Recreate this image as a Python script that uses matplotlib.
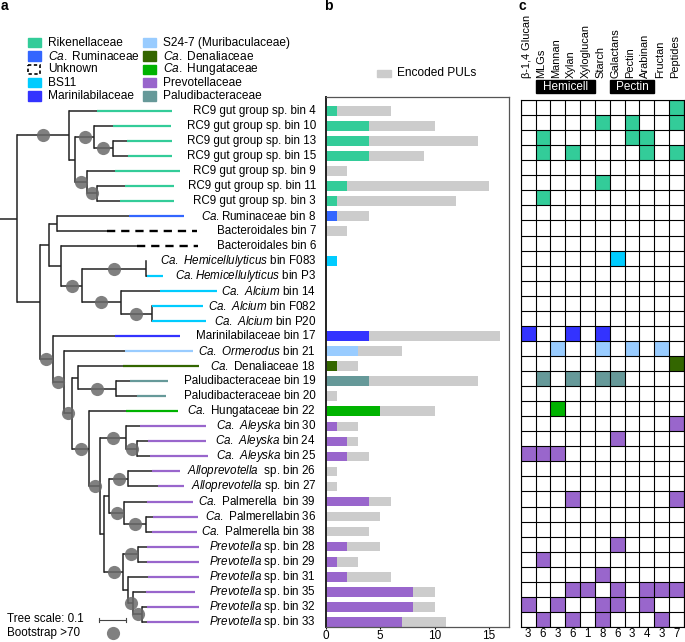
import matplotlib
matplotlib.use('Agg')
import matplotlib.pyplot as plt
import matplotlib.transforms as mtransforms
from matplotlib.patches import Rectangle
import numpy as np

plt.rcParams['font.family'] = ['Liberation Sans', 'DejaVu Sans']
plt.rcParams['mathtext.fontset'] = 'custom'
plt.rcParams['mathtext.rm'] = 'Liberation Sans'
plt.rcParams['mathtext.it'] = 'Liberation Sans:italic'
plt.rcParams['mathtext.bf'] = 'Liberation Sans:bold'

# ---------------- data ----------------
families = ['Rikenellaceae', 'Ruminaceae', 'Unknown', 'BS11', 'Marinilabilaceae',
            'S24-7', 'Denaliaceae', 'Hungataceae', 'Prevotellaceae', 'Paludibacteraceae']
family_labels = ['Rikenellaceae', r'$\mathit{Ca.}$ Ruminaceae', 'Unknown', 'BS11',
                 'Marinilabilaceae', 'S24-7 (Muribaculaceae)', r'$\mathit{Ca.}$ Denaliaceae',
                 r'$\mathit{Ca.}$ Hungataceae', 'Prevotellaceae', 'Paludibacteraceae']
family_colors = ['#33cc99', '#3366ff', 'black', '#00ccff', '#3333ff',
                 '#99ccff', '#336600', '#00b300', '#9966cc', '#669999']

taxa = [
    'RC9 gut group sp. bin 4', 'RC9 gut group sp. bin 10', 'RC9 gut group sp. bin 13',
    'RC9 gut group sp. bin 15', 'RC9 gut group sp. bin 9', 'RC9 gut group sp. bin 11',
    'RC9 gut group sp. bin 3',
    r'$\mathit{Ca.}$Ruminaceae bin 8', 'Bacteroidales bin 7', 'Bacteroidales bin 6',
    r'$\mathit{Ca.\ Hemicellulyticus}$ bin F083', r'$\mathit{Ca.Hemicellulyticus}$ bin P3',
    r'$\mathit{Ca.\ Alcium}$ bin 14', r'$\mathit{Ca.\ Alcium}$ bin F082',
    r'$\mathit{Ca.\ Alcium}$ bin P20',
    'Marinilabilaceae bin 17', r'$\mathit{Ca.\ Ormerodus}$ bin 21',
    r'$\mathit{Ca.}$ Denaliaceae 18', 'Paludibacteraceae bin 19', 'Paludibacteraceae bin 20',
    r'$\mathit{Ca.}$ Hungataceae bin 22',
    r'$\mathit{Ca.\ Aleyska}$ bin 30', r'$\mathit{Ca.\ Aleyska}$ bin 24',
    r'$\mathit{Ca.\ Aleyska}$ bin 25',
    r'$\mathit{Alloprevotella}$  sp. bin 26', r'$\mathit{Alloprevotella}$ sp. bin 27',
    r'$\mathit{Ca.}$ Palmerella  bin 39', r'$\mathit{Ca.}$ Palmerellabin 36',
    r'$\mathit{Ca.}$ Palmerella bin 38',
    r'$\mathit{Prevotella}$ sp. bin 28', r'$\mathit{Prevotella}$ sp. bin 29',
    r'$\mathit{Prevotella}$ sp. bin 31', r'$\mathit{Prevotella}$ sp. bin 35',
    r'$\mathit{Prevotella}$ sp. bin 32', r'$\mathit{Prevotella}$ sp. bin 33',
]
taxon_family = [0, 0, 0, 0, 0, 0, 0, 1, 2, 2, 3, 3, 3, 3, 3, 4, 5, 6, 9, 9, 7,
                8, 8, 8, 8, 8, 8, 8, 8, 8, 8, 8, 8, 8, 8]

# PUL counts (panel b)
pul_total = [6, 10, 14, 9, 2, 15, 12, 4, 2, 0, 1, 0, 0, 0, 0, 16, 7, 3, 14, 1, 10,
             3, 3, 4, 1, 1, 6, 5, 4, 5, 3, 6, 10, 10, 11]
pul_matched = [1, 4, 4, 4, 0, 2, 1, 1, 0, 0, 1, 0, 0, 0, 0, 4, 3, 1, 4, 0, 5,
               1, 2, 2, 0, 0, 4, 0, 0, 2, 1, 2, 8, 8, 7]

# substrate predictions (panel c)
substrates = ['β-1,4 Glucan', 'MLGs', 'Mannan', 'Xylan', 'Xyloglucan', 'Starch',
              'Galactans', 'Pectin', 'Arabinan', 'Fructan', 'Peptides']
pul_hits = [[10], [5, 7, 10], [1, 7, 8], [1, 3, 8, 10], [], [5], [1], [], [], [],
            [6], [], [], [], [], [0, 3, 5], [2, 5, 7, 9], [10], [1, 3, 5, 6], [],
            [2], [10], [6], [0, 1, 2], [], [], [3, 10], [], [], [6], [1], [5],
            [3, 4, 6, 8, 9, 10], [0, 2, 5, 6, 8], [1, 3, 5, 9]]
col_totals = ['3', '6', '3', '6', '1', '8', '6', '3', '4', '3', '7']
substrate_groups = [('Hemicell', 1, 4), ('Pectin', 6, 8)]

# tree: tip depth and start of the family-coloured tip segment (tree units)
tip_end = [0.645, 0.639, 0.645, 0.645, 0.674, 0.652, 0.652,
           0.689, 0.737, 0.743,
           0.546, 0.612, 0.812, 0.761, 0.770,
           0.674, 0.722, 0.745, 0.628, 0.621,
           0.668,
           0.772, 0.772, 0.780,
           0.674, 0.690,
           0.724, 0.743, 0.737,
           0.745, 0.745, 0.745, 0.730, 0.745, 0.745]
tip_color_start = [0.362, 0.422, 0.475, 0.481, 0.431, 0.468, 0.449,
                   0.484, 0.400, 0.512,
                   0.546, 0.549, 0.599, 0.568, 0.568,
                   0.431, 0.468, 0.462, 0.487, 0.512,
                   0.472,
                   0.524, 0.555, 0.562,
                   0.568, 0.593,
                   0.549, 0.574, 0.568,
                   0.549, 0.549, 0.555, 0.546, 0.549, 0.549]


def clade(depth, children, boot=False):
    return {'depth': depth, 'children': children, 'boot': boot}


tree = clade(0.064, [
    clade(0.258, [
        0,
        clade(0.281, [
            clade(0.352, [1, clade(0.422, [2, 3], True)], True),
            clade(0.327, [4, clade(0.364, [5, 6], True)], True),
        ]),
    ], True),
    clade(0.150, [
        clade(0.185, [
            clade(0.215, [7, 8]),
            clade(0.228, [
                9,
                clade(0.308, [
                    clade(0.546, [10, 11], True),
                    clade(0.452, [12, clade(0.568, [13, 14], True)], True),
                ], True),
            ]),
        ]),
        clade(0.197, [
            15,
            clade(0.241, [
                16,
                clade(0.270, [
                    clade(0.293, [17, clade(0.433, [18, 19], True)]),
                    clade(0.333, [
                        20,
                        clade(0.375, [
                            clade(0.472, [21, clade(0.514, [22, 23], True)], True),
                            clade(0.391, [
                                clade(0.409, [
                                    clade(0.481, [24, 25], True),
                                    clade(0.466, [26, clade(0.546, [27, 28], True)], True),
                                ]),
                                clade(0.462, [
                                    clade(0.516, [29, 30], True),
                                    clade(0.481, [
                                        31,
                                        clade(0.499, [32, clade(0.531, [33, 34], True)], True),
                                    ]),
                                ], True),
                            ]),
                        ], True),
                    ], True),
                ], True),
            ], True),
        ], True),
    ]),
])

# ---------------- figure ----------------
W, H = 685, 642
fig = plt.figure(figsize=(W / 100, H / 100), dpi=100)


def px_axes(x0, y0, x1, y1):
    return fig.add_axes([x0 / W, 1 - y1 / H, (x1 - x0) / W, (y1 - y0) / H])


rows = np.arange(len(taxa))
row_lim = (34.35, -0.92)
lab_fs = 8.4

# ---- panel a: tree ----
ax_t = px_axes(0, 97, 316, 627)
ax_t.set_xlim(0, 316 / 267)
ax_t.set_ylim(*row_lim)
ax_t.axis('off')

boots = []


def set_y(n):
    if isinstance(n, int):
        return float(n)
    ys = [set_y(c) for c in n['children']]
    n['y'] = (ys[0] + ys[-1]) / 2
    return n['y']


def draw(n, px):
    if isinstance(n, int):
        cs, te = tip_color_start[n], tip_end[n]
        ax_t.plot([px, cs], [n, n], color='#222222', lw=1.1, solid_capstyle='butt')
        fam = taxon_family[n]
        if te > cs:
            if families[fam] == 'Unknown':
                ax_t.plot([cs, te], [n, n], color='black', lw=1.7, ls=(0, (3.5, 2.5)))
            else:
                ax_t.plot([cs, te], [n, n], color=family_colors[fam], lw=1.6,
                          solid_capstyle='butt')
        return
    x, y = n['depth'], n['y']
    ax_t.plot([px, x], [y, y], color='#222222', lw=1.1, solid_capstyle='butt')
    cy = [c if isinstance(c, int) else c['y'] for c in n['children']]
    ax_t.plot([x, x], [min(cy), max(cy)], color='#222222', lw=1.1)
    for c in n['children']:
        draw(c, x)
    if n['boot']:
        boots.append(((px + x) / 2, y))


set_y(tree)
draw(tree, 0.0)
bx, by = zip(*boots)
ax_t.scatter(bx, by, s=90, color='#6a6a6a', alpha=0.85, lw=0, zorder=5)

trans_lab = mtransforms.blended_transform_factory(ax_t.transAxes, ax_t.transData)
for i, name in enumerate(taxa):
    ax_t.text(1.0, i, name, transform=trans_lab, ha='right', va='center', fontsize=lab_fs)

# tree scale and bootstrap key
ax_t.plot([0.371, 0.471], [33.88, 33.88], color='#444444', lw=0.8, clip_on=False)
for xe in (0.371, 0.471):
    ax_t.plot([xe, xe], [33.72, 34.04], color='#444444', lw=0.8, clip_on=False)
ax_t.text(0.026, 33.82, 'Tree scale: 0.1', fontsize=lab_fs, va='center', clip_on=False)
ax_t.text(0.026, 34.76, 'Bootstrap >70', fontsize=lab_fs, va='center', clip_on=False)
ax_t.scatter([0.422], [34.76], s=90, color='#6a6a6a', alpha=0.85, lw=0, clip_on=False)

# ---- panel b: bars ----
ax_b = px_axes(325.7, 97, 509, 627)
bar_cols = [family_colors[f] for f in taxon_family]
ax_b.barh(rows, pul_total, height=0.65, color='#cccccc')
ax_b.barh(rows, pul_matched, height=0.65, color=bar_cols)
ax_b.set_xlim(0, 16.83)
ax_b.set_ylim(*row_lim)
ax_b.set_yticks([])
ax_b.set_xticks([0, 5, 10, 15])
ax_b.tick_params(axis='x', labelsize=8.5, length=1.5, pad=0.5)
for sp in ax_b.spines.values():
    sp.set_color('#555555')
    sp.set_linewidth(0.9)
ax_b.spines['left'].set_color('#222222')
ax_b.spines['left'].set_linewidth(1.4)

# ---- panel c: substrate grid ----
ax_h = px_axes(520.7, 100, 684, 627)
n_r, n_c = len(taxa), len(substrates)
rgb = np.ones((n_r, n_c, 3))
for i, hits in enumerate(pul_hits):
    for j in hits:
        rgb[i, j] = matplotlib.colors.to_rgb(family_colors[taxon_family[i]])
ax_h.imshow(rgb, extent=(-0.5, n_c - 0.5, n_r - 0.5, -0.5), aspect='auto',
            interpolation='nearest')
for k in range(n_r + 1):
    ax_h.axhline(k - 0.5, color='black', lw=0.8)
for k in range(n_c + 1):
    ax_h.axvline(k - 0.5, color='black', lw=0.8)
ax_h.set_xlim(-0.5, n_c - 0.5)
ax_h.set_ylim(n_r - 0.5, -0.5)
ax_h.set_xticks([])
ax_h.set_yticks([])
for j, s in enumerate(substrates):
    ax_h.text(j - 0.1, -1.93, s, rotation=90, ha='center', va='bottom', fontsize=7.9,
              clip_on=False)
    ax_h.text(j, 34.95, col_totals[j], ha='center', va='center', fontsize=8.3,
              clip_on=False)
for name, c0, c1 in substrate_groups:
    ax_h.add_patch(Rectangle((c0 - 0.5, -1.83), c1 - c0 + 1, 0.87, color='black',
                             clip_on=False))
    ax_h.text((c0 + c1) / 2, -1.39, name, color='white', ha='center', va='center',
              fontsize=8.5, clip_on=False)

# ---- overlay: legend and panel letters ----
ax_o = fig.add_axes([0, 0, 1, 1])
ax_o.set_xlim(0, W)
ax_o.set_ylim(H, 0)
ax_o.axis('off')
for k, (lab, col) in enumerate(zip(family_labels, family_colors)):
    cx = 28 if k < 5 else 143.3
    cy = 42.7 + (k % 5) * 13.3
    if families[k] == 'Unknown':
        ax_o.add_patch(Rectangle((cx, cy - 4.8), 12.2, 9.6, facecolor='white',
                                 edgecolor='black', lw=1.2, ls=(0, (2, 1.5))))
    else:
        ax_o.add_patch(Rectangle((cx, cy - 4.8), 12.7, 9.6, color=col))
    ax_o.text(cx + 20, cy, lab, fontsize=8.6, va='center')

ax_o.add_patch(Rectangle((376.7, 70), 14.3, 6.5, color='#cccccc'))
ax_o.text(397, 73.3, 'Encoded PULs', fontsize=8.6, va='center')

for letter, lx in (('a', 1), ('b', 324), ('c', 519)):
    ax_o.text(lx, 6, letter, fontsize=10, fontweight='bold', va='center')

fig.savefig('out.png', dpi=100)
